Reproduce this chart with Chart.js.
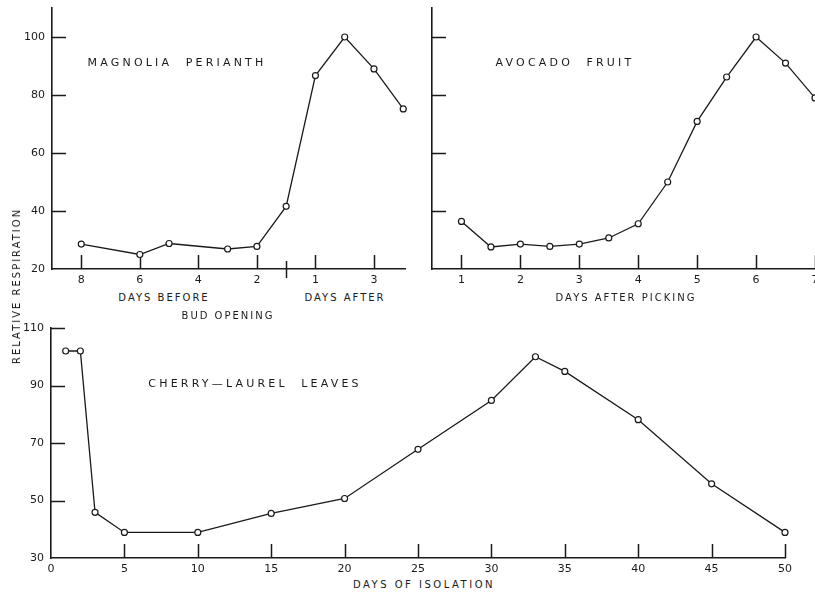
<!DOCTYPE html>
<html>
<head>
<meta charset="utf-8">
<script src="https://cdn.jsdelivr.net/npm/chart.js@4.4.0/dist/chart.umd.min.js"></script>
<style>
  html, body { margin: 0; padding: 0; background: #fff; }
  body { width: 815px; height: 594px; position: relative; overflow: hidden; font-family: 'DejaVu Sans', sans-serif; color: #1a1a1a; }
  .box { position: absolute; }
  .lbl { position: absolute; font-size: 10px; line-height: 1; white-space: pre; transform: translate(-50%, -50%); }
  .title { font-size: 11px; letter-spacing: 3.2px; }
  .axis { letter-spacing: 2px; }
  .vert { transform: translate(-50%, -50%) rotate(-90deg); }
</style>
</head>
<body>
<div class="box" style="left:0;top:0;width:412px;height:292px"><canvas id="magChart"></canvas></div>
<div class="box" style="left:400px;top:0;width:415px;height:292px"><canvas id="avoChart"></canvas></div>
<div class="box" style="left:0;top:320px;width:800px;height:258px"><canvas id="cherryChart"></canvas></div>

<div class="lbl title" style="left:177px;top:62px">MAGNOLIA  PERIANTH</div>
<div class="lbl title" style="left:565px;top:62px">AVOCADO  FRUIT</div>
<div class="lbl title" style="left:255px;top:383px">CHERRY—LAUREL  LEAVES</div>
<div class="lbl axis" style="left:164px;top:298px">DAYS BEFORE</div>
<div class="lbl axis" style="left:345px;top:298px">DAYS AFTER</div>
<div class="lbl axis" style="left:228px;top:316px">BUD OPENING</div>
<div class="lbl axis" style="left:626px;top:298px">DAYS AFTER PICKING</div>
<div class="lbl axis" style="left:424px;top:585px;letter-spacing:2.5px">DAYS OF ISOLATION</div>
<div class="lbl axis vert" style="left:17px;top:286px">RELATIVE RESPIRATION</div>

<script>
// Magnolia: giorni prima negativi, apertura del bocciolo a -1, giorni dopo da 0
const magDays = [-8, -6, -5, -3, -2, -1, 0, 1, 2, 3];
const magResp = [28.6, 25, 28.8, 26.9, 27.8, 41.6, 86.7, 100, 89, 75.2];
const magTickPos = [-8, -6, -4, -2, 0, 2];
const magTickText = ['8', '6', '4', '2', '1', '3'];
const magBreak = [-1];

// Avocado
const avoDays = [1, 1.5, 2, 2.5, 3, 3.5, 4, 4.5, 5, 5.5, 6, 6.5, 7];
const avoResp = [36.4, 27.6, 28.6, 27.8, 28.6, 30.7, 35.6, 50, 70.9, 86.2, 100, 91, 79];
const avoTickPos = [1, 2, 3, 4, 5, 6, 7];

// Lauroceraso
const cherryDays = [1, 2, 3, 5, 10, 15, 20, 25, 30, 33, 35, 40, 45, 50];
const cherryResp = [102, 102, 45.9, 38.9, 38.9, 45.5, 50.7, 67.8, 84.8, 100, 94.9, 78.1, 55.8, 38.9];
const cherryTickPos = [0, 5, 10, 15, 20, 25, 30, 35, 40, 45, 50];
const cherryMarkPos = [5, 10, 15, 20, 25, 30, 35, 40, 45, 50];

const topYTicks = [20, 40, 60, 80, 100];
const topYMarks = [40, 60, 80, 100];
const cherryYTicks = [30, 50, 70, 90, 110];
const cherryYMarks = [50, 70, 90, 110];

const ink = '#1a1a1a';

// Tacche rivolte verso l'interno del grafico
const innerTicks = {
    id: 'innerTicks',
    beforeDatasetsDraw(chart, args, opts) {
        const { ctx, chartArea: a, scales: { x, y } } = chart;
        ctx.save();
        ctx.strokeStyle = ink;
        ctx.lineWidth = 1.5;
        ctx.beginPath();
        (opts.x || []).forEach(v => {
            const px = Math.round(x.getPixelForValue(v)) + 0.5;
            ctx.moveTo(px, a.bottom);
            ctx.lineTo(px, a.bottom - opts.len);
        });
        (opts.cross || []).forEach(v => {
            const px = Math.round(x.getPixelForValue(v)) + 0.5;
            ctx.moveTo(px, a.bottom + 9);
            ctx.lineTo(px, a.bottom - 8);
        });
        (opts.y || []).forEach(v => {
            const py = Math.round(y.getPixelForValue(v)) + 0.5;
            ctx.moveTo(a.left, py);
            ctx.lineTo(a.left + opts.len, py);
        });
        ctx.stroke();
        ctx.restore();
    }
};

function makeChart(canvasId, o) {
    const ctx = document.getElementById(canvasId).getContext('2d');
    const font = { family: 'DejaVu Sans', size: 11 };
    return new Chart(ctx, {
        type: 'line',
        data: {
            datasets: [{
                data: o.xs.map((x, i) => ({ x: x, y: o.ys[i] })),
                borderColor: ink,
                borderWidth: 1.3,
                tension: 0,
                pointRadius: 3,
                pointBorderWidth: 1.2,
                pointBorderColor: ink,
                pointBackgroundColor: '#fff',
                clip: false
            }]
        },
        options: {
            responsive: true,
            maintainAspectRatio: false,
            animation: false,
            layout: { padding: o.padding, autoPadding: false },
            plugins: {
                legend: { display: false },
                tooltip: { enabled: false },
                innerTicks: { x: o.xMarks, y: o.yMarks, cross: o.cross, len: 14 }
            },
            scales: {
                x: {
                    type: 'linear',
                    min: o.xMin,
                    max: o.xMax,
                    grid: { display: false, drawTicks: false },
                    border: { color: ink, width: 1.6 },
                    afterBuildTicks: s => { s.ticks = o.xPos.map(v => ({ value: v })); },
                    afterFit: s => { s.height = o.xHeight; s.paddingLeft = 0; s.paddingRight = 0; },
                    ticks: {
                        autoSkip: false, maxRotation: 0, padding: 5, color: ink, font: font,
                        callback: (v, i) => o.xText[i]
                    }
                },
                y: {
                    min: o.yMin,
                    max: o.yMax,
                    grid: { display: false, drawTicks: false },
                    border: { color: ink, width: 1.6 },
                    afterBuildTicks: s => { s.ticks = o.yPos.map(v => ({ value: v })); },
                    afterFit: s => { s.width = o.yWidth; s.paddingTop = 0; s.paddingBottom = 0; },
                    ticks: { display: o.yLabels, padding: 7, color: ink, font: font }
                }
            }
        },
        plugins: [innerTicks]
    });
}

makeChart('magChart', {
    xs: magDays, ys: magResp,
    xMin: -9, xMax: 3.06, yMin: 20, yMax: 110,
    xPos: magTickPos, xText: magTickText, xMarks: magTickPos, cross: magBreak,
    yPos: topYTicks, yMarks: topYMarks, yLabels: true,
    yWidth: 52, xHeight: 23,
    padding: { top: 8, right: 7, bottom: 0, left: 0 }
});

makeChart('avoChart', {
    xs: avoDays, ys: avoResp,
    xMin: 0.5, xMax: 7, yMin: 20, yMax: 110,
    xPos: avoTickPos, xText: avoTickPos.map(String), xMarks: avoTickPos, cross: [],
    yPos: topYTicks, yMarks: topYMarks, yLabels: false,
    yWidth: 32, xHeight: 23,
    padding: { top: 8, right: 0, bottom: 0, left: 0 }
});

makeChart('cherryChart', {
    xs: cherryDays, ys: cherryResp,
    xMin: 0, xMax: 50, yMin: 30, yMax: 110,
    xPos: cherryTickPos, xText: cherryTickPos.map(String), xMarks: cherryMarkPos, cross: [],
    yPos: cherryYTicks, yMarks: cherryYMarks, yLabels: true,
    yWidth: 51, xHeight: 20,
    padding: { top: 8, right: 15, bottom: 0, left: 0 }
});
</script>
</body>
</html>
